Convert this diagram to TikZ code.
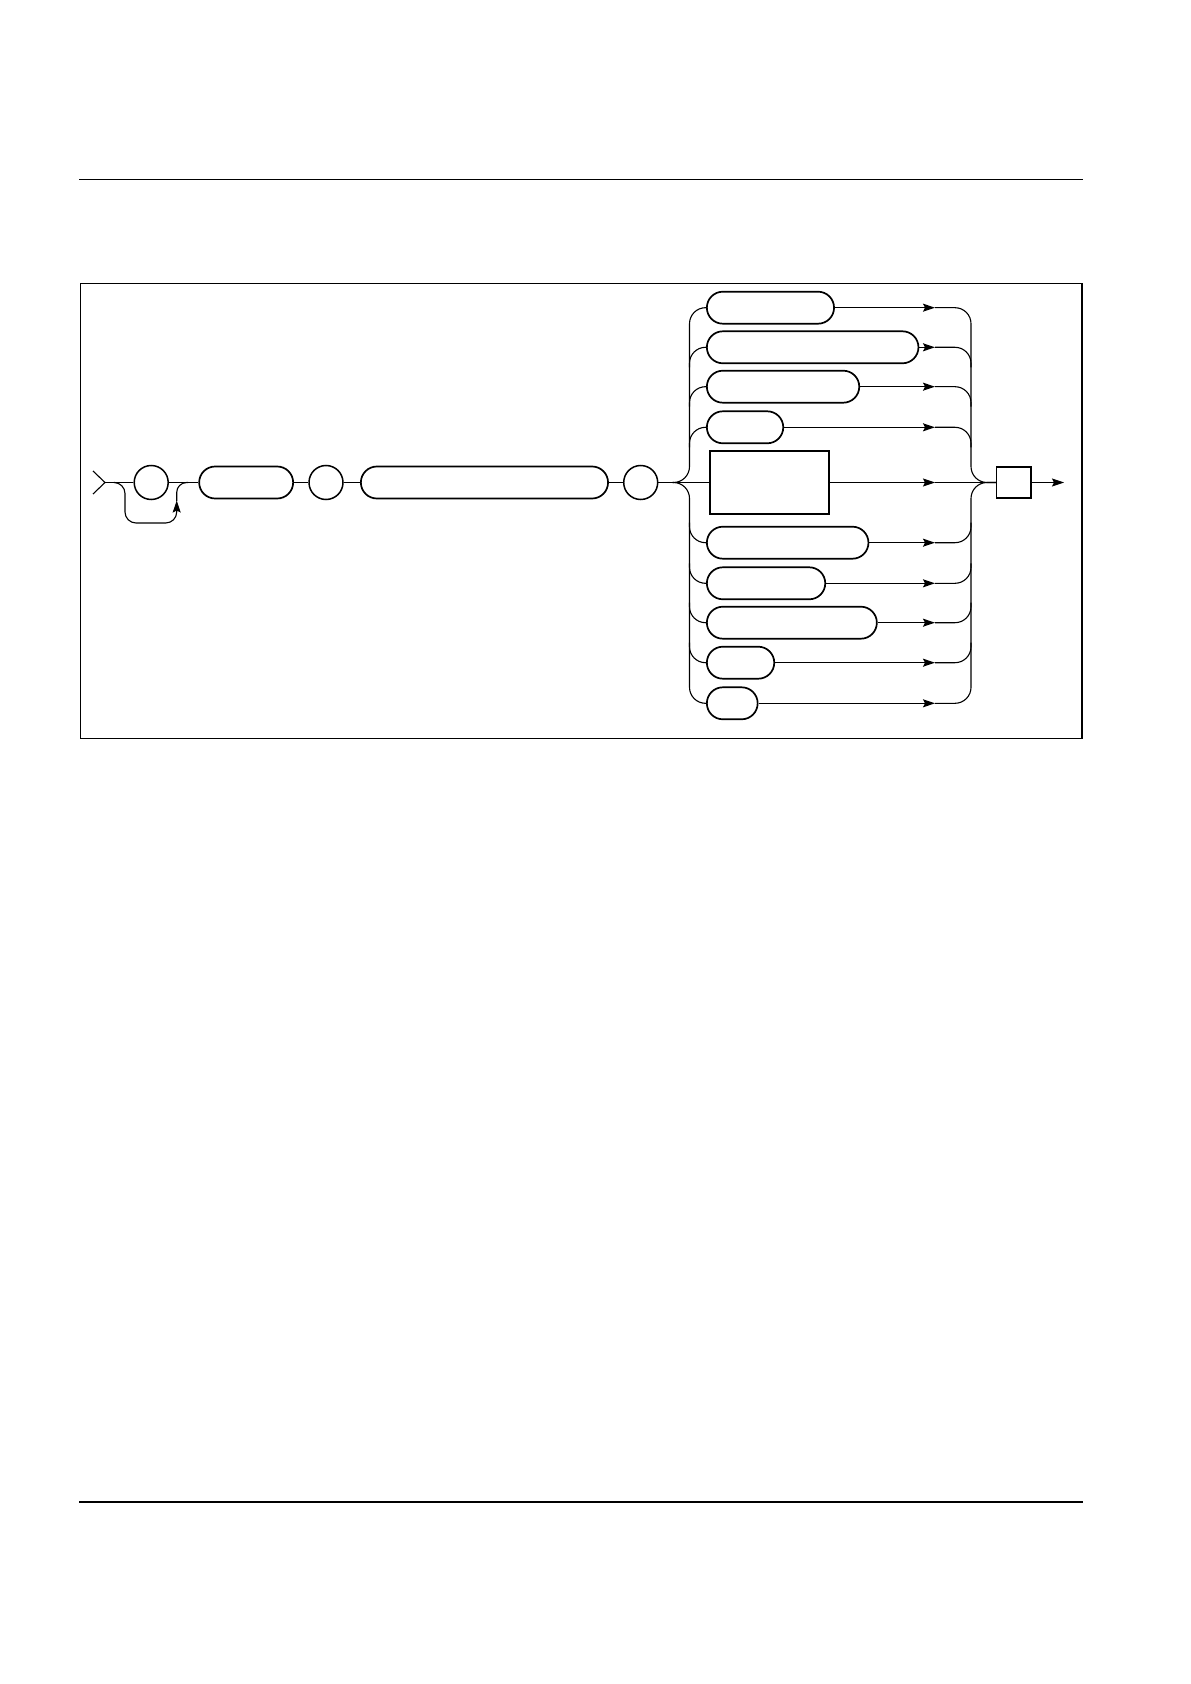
\documentclass[tikz,border=0pt]{standalone}
\usetikzlibrary{arrows.meta,calc}
\tikzset{
  term/.style={draw, line width=.85pt, rounded corners=8pt, minimum height=16pt, inner sep=0pt},
  bubble/.style={draw, circle, line width=.75pt, minimum size=17pt, inner sep=0pt},
  sbox/.style={draw, line width=.85pt, inner sep=0pt},
  pipe/.style={line width=.55pt},
  >={Stealth[length=6pt,width=4pt,inset=1pt]}
}
\begin{document}
\begin{tikzpicture}[x=.5pt, y=-.5pt, pipe]
\useasboundingbox (0,0) rectangle (1190,1684);
% page rules and frame
\draw[line width=.7pt] (79,179.5) -- (1083,179.5);
\draw[line width=.7pt] (79,1502) -- (1083,1502);
\draw[line width=.9pt] (80.5,283.5) rectangle (1082,738.5);

% main line
\coordinate (in) at (105,482.5);
\draw (93,471) -- (in) -- (93,494);
\node[bubble] (c1) at (151.2,482.5) {};
\node[term, minimum width=47pt, anchor=west] (t1) at (198.3,482.5) {};
\node[bubble] (c2) at (326,482.5) {};
\node[term, minimum width=123.6pt, anchor=west] (t2) at (360,482.5) {};
\node[bubble] (c3) at (640.7,482.5) {};
\coordinate (sp) at (672.5,482.5);
\draw (in) -- (c1) -- (t1) -- (c2) -- (t2) -- (c3) -- (sp);

% bypass under c1
\coordinate (bs) at (115,482.5);
\coordinate (be) at (188,482.5);
\draw[->, rounded corners=5.5pt] (bs) -- (125,482.5) -- (125,523) -- (176.7,523) -- (176.7,500.5);
\draw[rounded corners=5pt] (176.7,501) -- (176.7,482.5) -- (be);

% branches
\foreach \n/\y/\w in {1/307.7/63.6, 2/347.3/105.8, 3/386.7/76.2, 4/427.3/38.2,
  6/542.7/80.8, 7/583.3/59.2, 8/622.7/85, 9/662.7/33.7, 10/703.3/25.4}
  \node[term, minimum width=\w pt, anchor=west] (b\n) at (706,\y) {};
\node[sbox, minimum width=59.6pt, minimum height=31.6pt, anchor=west] (b5) at (709,482.5) {};
\node[sbox, minimum width=17.2pt, minimum height=15.8pt] (out) at (1013.8,482.5) {};

\coordinate (lb) at (689.5,482.5);
\coordinate (tip) at (935,482.5);
\coordinate (rb) at (971,482.5);

% left bus
\draw[rounded corners=8pt] (sp) -- (lb) -- (lb |- b1.west) -- (b1.west);
\draw[rounded corners=8pt] (sp) -- (lb) -- (lb |- b10.west) -- (b10.west);
\draw (sp) -- (b5.west);
\foreach \n in {2,3,4}
  \draw[rounded corners=8pt] ($(b\n.west -| lb)+(0,20)$) -- (b\n.west -| lb) -- (b\n.west);
\foreach \n in {6,7,8,9}
  \draw[rounded corners=8pt] ($(b\n.west -| lb)+(0,-20)$) -- (b\n.west -| lb) -- (b\n.west);

% arrows and right bus
\foreach \n in {1,...,10}
  \draw[->] (b\n.east) -- (b\n.east -| tip);
\draw[rounded corners=8pt] (b1.east -| tip) -- (b1.east -| rb) -- (rb) -- (out.west);
\draw[rounded corners=8pt] (b10.east -| tip) -- (b10.east -| rb) -- (rb) -- (out.west);
\draw (tip) -- (out.west);
\foreach \n in {2,3,4}
  \draw[rounded corners=8pt] (b\n.east -| tip) -- (b\n.east -| rb) -- ($(b\n.east -| rb)+(0,20)$);
\foreach \n in {6,7,8,9}
  \draw[rounded corners=8pt] (b\n.east -| tip) -- (b\n.east -| rb) -- ($(b\n.east -| rb)+(0,-20)$);
\coordinate (exit) at (1064,482.5);
\draw[->] (out.east) -- (exit);
\end{tikzpicture}
\end{document}
